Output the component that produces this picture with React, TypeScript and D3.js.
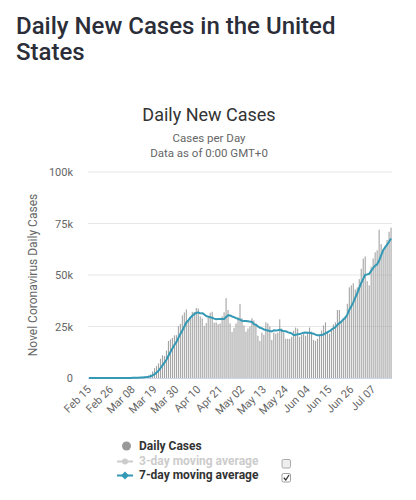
import React from "react";
import * as d3 from "d3";

const startDate = new Date(2020, 1, 15);
const dailyCases: number[] = [
  0,0,0,0,0,1,0,0,0,18,0,1,1,0,8,
  10,23,20,31,68,45,140,116,65,377,284,442,544,748,706,1219,1779,3162,4836,5880,7084,9342,11062,10662,13356,17972,18745,19489,20703,20821,25193,
  26306,30390,31824,33269,28219,29595,32105,32061,34013,33752,29861,28917,25306,26641,30148,31667,32165,26843,27026,26135,26474,29973,31900,38764,33000,26500,22400,24400,26500,29500,
  36000,29000,25500,22500,24000,25000,29000,28000,26500,20500,18000,22000,21000,27000,26500,25000,18500,22000,21500,22000,28500,24000,22000,19000,19000,19000,20000,23000,24500,24000,20000,
  21000,21500,20500,22000,24500,22500,18500,18000,19000,21000,23000,25500,27000,22000,21500,24000,26000,27000,33000,33000,27000,29000,30000,36000,44000,45000,46000,43000,44000,48000,
  53000,58000,59000,47000,45000,54000,58000,61000,62000,72000,65000,62000,64000,67000,71000,73000,
];
const movingAvg7: number[] = [
  0,0,0,0,0,0,0,0,0,3,3,3,3,3,4,
  5,6,9,13,23,29,48,63,69,120,156,210,281,368,452,617,817,1229,1856,2619,3524,4757,6164,7433,8889,10765,12603,14375,15998,17393,19468,
  21318,23092,24961,26929,28003,29257,30244,31066,31584,31859,31372,31472,30859,30079,29805,29470,29244,28812,28542,28661,28637,28612,28645,29588,30467,30392,29859,29562,29066,28723,
  28329,27757,27614,27629,27571,27357,27286,26143,25786,25071,24429,24143,23571,23286,23071,22857,22571,23143,23071,23214,23429,23071,22643,22714,22286,21929,21643,20857,20929,21214,21357,
  21643,22000,22071,21929,21929,21714,21500,21071,20714,20786,20929,21071,21714,22214,22714,23429,24143,24714,25786,26643,27357,28429,29286,30714,33143,34857,36714,39000,41143,43714,
  46143,48143,50143,50286,50571,52000,53429,54571,55143,57000,59571,62000,63429,64714,66143,67714,
];
const yTicks: number[] = [0, 25000, 50000, 75000, 100000];
const yTickLabels: string[] = ["0", "25k", "50k", "75k", "100k"];
const xTickLabels: string[] = ["Feb 15","Feb 26","Mar 08","Mar 19","Mar 30","Apr 10","Apr 21","May 02","May 13","May 24","Jun 04","Jun 15","Jun 26","Jul 07"];
const xTickEvery = 11;

const FONT = "Roboto, 'Noto Sans', sans-serif";
const TEAL = "#3399b5";

export default function App() {
  const dates = d3.timeDay.range(startDate, d3.timeDay.offset(startDate, dailyCases.length));
  const left = 88, right = 392, top = 172, bottom = 378;
  const x = d3.scaleBand<number>().domain(dates.map((_, i) => i)).range([left, right]).paddingInner(0.45).paddingOuter(0.2);
  const y = d3.scaleLinear().domain([0, 100000]).range([bottom, top]);
  const cx = (i: number) => (x(i) as number) + x.bandwidth() / 2;
  const line = d3.line<number>().x((_, i) => cx(i)).y((d) => y(d));

  return (
    <svg width={416} height={500} style={{ position: "absolute", left: 0, top: 0, fontFamily: FONT }}>
      <rect width={416} height={500} fill="#fff" />
      <text x={16} y={34} fontSize={24} fontWeight={500} fill="#2b2e38">Daily New Cases in the United</text>
      <text x={16} y={60} fontSize={24} fontWeight={500} fill="#2b2e38">States</text>

      <text x={209} y={121} textAnchor="middle" fontSize={18} fill="#333">Daily New Cases</text>
      <text x={209} y={142} textAnchor="middle" fontSize={11.5} fill="#666">Cases per Day</text>
      <text x={209} y={157} textAnchor="middle" fontSize={11.5} fill="#666">Data as of 0:00 GMT+0</text>

      {yTicks.map((t, k) => (
        <g key={t}>
          {t > 0 && <line x1={left} x2={right} y1={y(t)} y2={y(t)} stroke="#e6e6e6" strokeWidth={1} />}
          <text x={73} y={y(t) + 4} textAnchor="end" fontSize={11} fill="#666">{yTickLabels[k]}</text>
        </g>
      ))}
      <text transform={`translate(37,${(top + bottom) / 2}) rotate(-90)`} textAnchor="middle" fontSize={12} fill="#666">Novel Coronavirus Daily Cases</text>

      {dailyCases.map((v, i) => (
        <rect key={i} x={x(i) as number} y={y(v)} width={x.bandwidth()} height={bottom - y(v)} fill="#a3a3a3" />
      ))}
      <line x1={left} x2={right} y1={bottom + 0.5} y2={bottom + 0.5} stroke="#ccd6eb" strokeWidth={1} />
      <path d={line(movingAvg7) || ""} fill="none" stroke={TEAL} strokeWidth={2} strokeLinejoin="round" />

      {xTickLabels.map((lab, k) => {
        const px = cx(k * xTickEvery) + 3;
        return (
          <text key={lab} transform={`translate(${px},390) rotate(-45)`} textAnchor="end" fontSize={11} fill="#666">{lab}</text>
        );
      })}

      <g fontSize={12} fontWeight={700}>
        <circle cx={126.5} cy={446} r={4.5} fill="#999" />
        <text x={139} y={450} fill="#333">Daily Cases</text>
        <line x1={117} x2={133} y1={461.5} y2={461.5} stroke="#ccc" strokeWidth={2} />
        <circle cx={125} cy={461.5} r={3} fill="#ccc" />
        <text x={139} y={465} fill="#ccc">3-day moving average</text>
        <rect x={282} y={459.5} width={8.5} height={8.5} rx={1.5} fill="#eee" stroke="#999" strokeWidth={0.8} />
        <line x1={117} x2={133} y1={475.5} y2={475.5} stroke={TEAL} strokeWidth={2} />
        <path d="M125,471.5 L129,475.5 L125,479.5 L121,475.5 Z" fill={TEAL} />
        <text x={139} y={479} fill="#333">7-day moving average</text>
        <rect x={282} y={473.5} width={8.5} height={8.5} rx={1.5} fill="#fff" stroke="#888" strokeWidth={0.8} />
        <path d="M283.8,477.8 L285.8,480 L289,475" fill="none" stroke="#333" strokeWidth={1.3} />
      </g>
    </svg>
  );
}
